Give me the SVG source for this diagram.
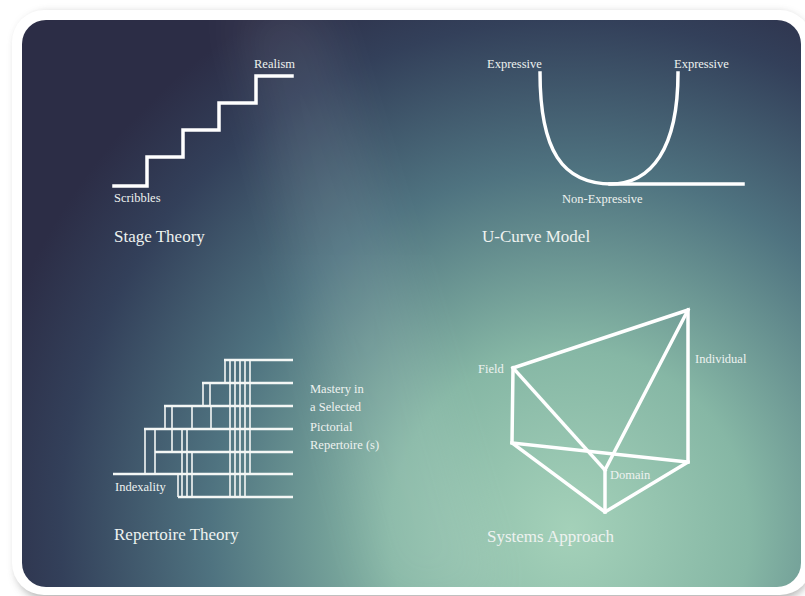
<svg xmlns="http://www.w3.org/2000/svg" width="805" height="596" viewBox="0 0 805 596">
  <defs>
    <radialGradient id="bg" gradientUnits="userSpaceOnUse" cx="570" cy="530" r="600" fx="570" fy="530">
      <stop offset="0" stop-color="#a4d1b9"/>
      <stop offset="0.3" stop-color="#86b7a5"/>
      <stop offset="0.6" stop-color="#4f7380"/>
      <stop offset="0.85" stop-color="#33405a"/>
      <stop offset="1" stop-color="#2c2d46"/>
    </radialGradient>
    <filter id="shadow" x="-5%" y="-5%" width="110%" height="110%">
      <feGaussianBlur stdDeviation="4"/>
    </filter>
    <filter id="soft" x="-30%" y="-10%" width="160%" height="120%">
      <feGaussianBlur stdDeviation="25"/>
    </filter>
    <clipPath id="innerClip">
      <rect x="22" y="20" width="779" height="567" rx="24"/>
    </clipPath>
  </defs>
  <style>
    .ln { fill: none; stroke: #ffffff; stroke-width: 3.5; stroke-linecap: square; stroke-linejoin: miter; }
    .rl { fill: none; stroke: #f4f7f5; stroke-width: 2.6; }
    .rv { fill: none; stroke: #f4f7f5; stroke-width: 1.6; }
    .sm { font-family: "Liberation Serif", "DejaVu Serif", serif; font-size: 12.5px; fill: #eef2f0; }
    .tt { font-family: "Liberation Serif", "DejaVu Serif", serif; font-size: 17px; fill: #eef2f0; }
  </style>

  <!-- frame -->
  <rect x="16" y="13" width="794" height="587" rx="32" fill="#6e6e6e" opacity="0.5" filter="url(#shadow)"/>
  <rect x="12" y="10" width="800" height="585" rx="32" fill="#ffffff"/>
  <rect x="22" y="20" width="779" height="567" rx="24" fill="url(#bg)"/>
  <g clip-path="url(#innerClip)">
    <polygon points="230,0 320,0 500,600 380,600" fill="#ffffff" opacity="0.07" filter="url(#soft)"/>
  </g>

  <!-- Stage Theory -->
  <g id="stage-theory">
    <polyline class="ln" points="114,186 147,186 147,157 183,157 183,130 219,130 219,103 256,103 256,76 292,76"/>
    <text class="sm" x="254" y="68">Realism</text>
    <text class="sm" x="114" y="202">Scribbles</text>
    <text class="tt" x="114" y="242">Stage Theory</text>
  </g>

  <!-- U-Curve Model -->
  <g id="u-curve">
    <path class="ln" stroke-linecap="butt" d="M540,73 C540,150 562,184 612,184 L743,184"/>
    <path class="ln" stroke-linecap="butt" d="M678,73 C678,148 652,184 610,184"/>
    <text class="sm" x="487" y="68">Expressive</text>
    <text class="sm" x="674" y="68">Expressive</text>
    <text class="sm" x="562" y="203">Non-Expressive</text>
    <text class="tt" x="482" y="242">U-Curve Model</text>
  </g>

  <!-- Repertoire Theory -->
  <g id="repertoire-theory">
    <g class="rl">
      <line x1="224" y1="360" x2="293" y2="360"/>
      <line x1="202" y1="383" x2="293" y2="383"/>
      <line x1="164" y1="406" x2="293" y2="406"/>
      <line x1="144" y1="429" x2="293" y2="429"/>
      <line x1="155" y1="452" x2="293" y2="452"/>
      <line x1="113" y1="474" x2="293" y2="474"/>
      <line x1="178" y1="497" x2="293" y2="497"/>
    </g>
    <g class="rv">
      <line x1="225" y1="360" x2="225" y2="383"/>
      <line x1="230" y1="360" x2="230" y2="497"/>
      <line x1="235" y1="360" x2="235" y2="497"/>
      <line x1="240" y1="360" x2="240" y2="497"/>
      <line x1="245" y1="360" x2="245" y2="497"/>
      <line x1="250" y1="360" x2="250" y2="474"/>
      <line x1="203" y1="383" x2="203" y2="406"/>
      <line x1="210" y1="383" x2="210" y2="406"/>
      <line x1="165" y1="406" x2="165" y2="429"/>
      <line x1="172" y1="406" x2="172" y2="452"/>
      <line x1="192" y1="406" x2="192" y2="429"/>
      <line x1="211" y1="406" x2="211" y2="429"/>
      <line x1="145" y1="429" x2="145" y2="474"/>
      <line x1="155" y1="429" x2="155" y2="474"/>
      <line x1="182" y1="429" x2="182" y2="452"/>
      <line x1="187" y1="429" x2="187" y2="497"/>
      <line x1="192" y1="452" x2="192" y2="497"/>
      <line x1="182" y1="452" x2="182" y2="497"/>
      <line x1="178" y1="474" x2="178" y2="497"/>
    </g>
    <text class="sm" x="310" y="393">Mastery in</text>
    <text class="sm" x="310" y="411">a Selected</text>
    <text class="sm" x="310" y="431">Pictorial</text>
    <text class="sm" x="310" y="449">Repertoire (s)</text>
    <text class="sm" x="115" y="491">Indexality</text>
    <text class="tt" x="114" y="540">Repertoire Theory</text>
  </g>

  <!-- Systems Approach -->
  <g id="systems-approach">
    <g class="ln" stroke-linecap="round" stroke-linejoin="round">
      <polyline points="513,368 688,310 688,462 605,512 512,443 513,368"/>
      <line x1="513" y1="368" x2="605" y2="470"/>
      <line x1="688" y1="310" x2="605" y2="470"/>
      <line x1="605" y1="470" x2="605" y2="512"/>
      <line x1="512" y1="443" x2="688" y2="462"/>
    </g>
    <text class="sm" x="478" y="373">Field</text>
    <text class="sm" x="695" y="363">Individual</text>
    <text class="sm" x="610" y="479">Domain</text>
    <text class="tt" x="487" y="542">Systems Approach</text>
  </g>
</svg>
